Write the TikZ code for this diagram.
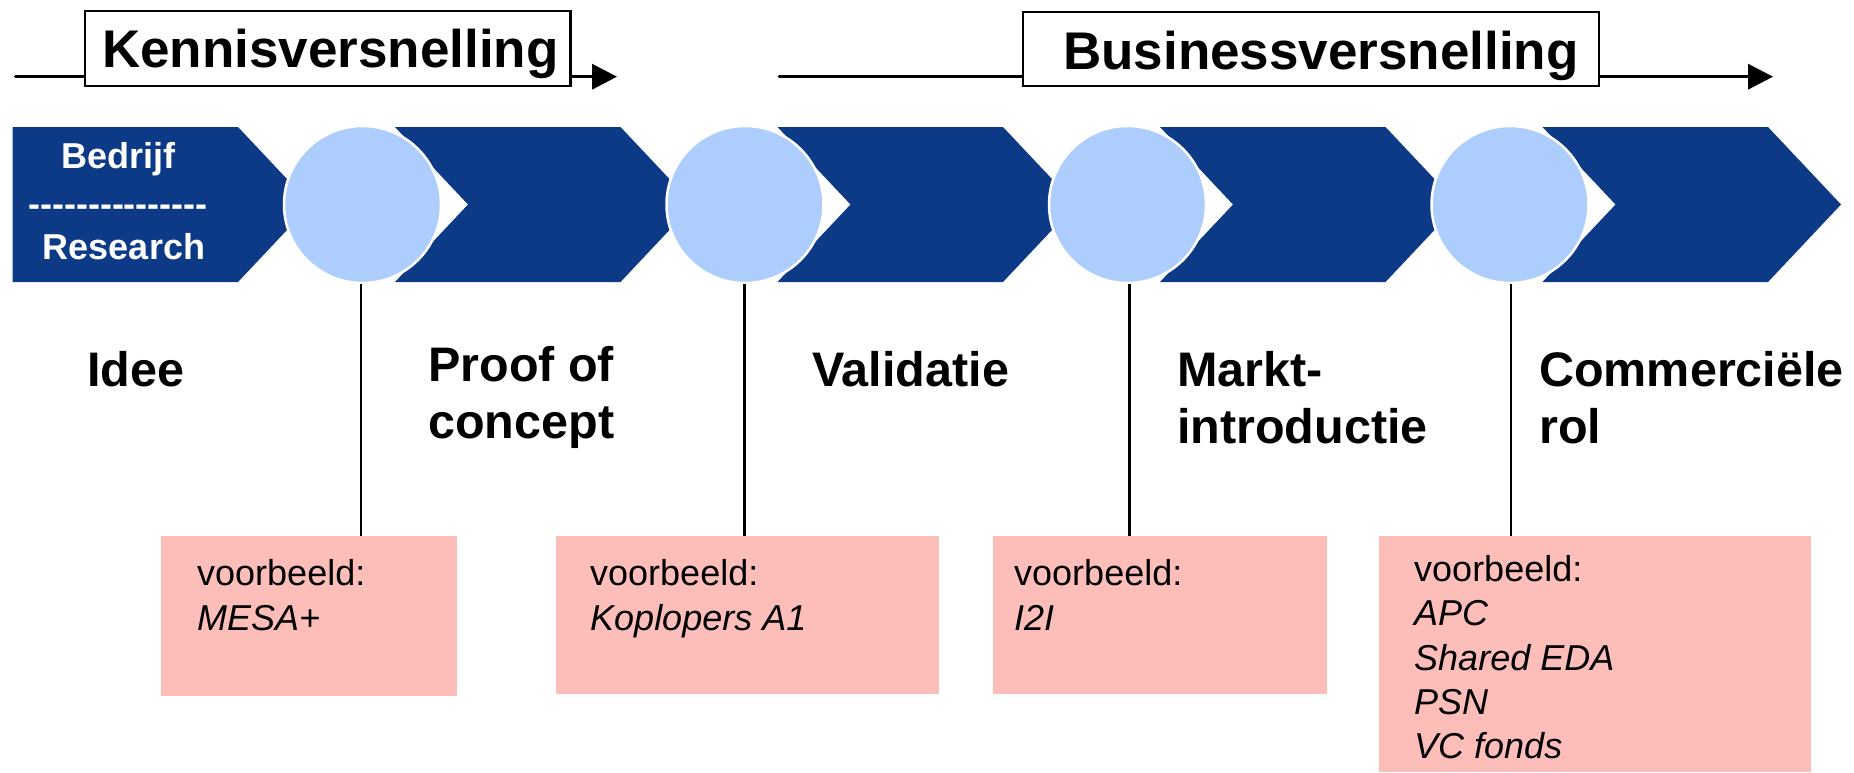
\documentclass[tikz,border=0pt]{standalone}
\usepackage{fontspec}
\setmainfont{Liberation Sans}
\usetikzlibrary{arrows.meta}
\definecolor{chevblue}{RGB}{12,58,135}
\definecolor{dotblue}{RGB}{173,205,252}
\definecolor{boxpink}{RGB}{253,190,186}
\newcommand{\hyph}{\mbox{-}}
\begin{document}
\begin{tikzpicture}[x=1pt,y=-1pt,
  chev/.style={fill=chevblue},
  dot/.style={circle,fill=dotblue,draw=white,line width=2.5pt,minimum size=157pt,inner sep=0pt},
  phasebox/.style={draw=black,fill=white,line width=2.5pt,inner sep=0pt},
  headtxt/.style={anchor=base west,inner sep=0pt,font=\fontsize{53}{60}\selectfont\bfseries},
  stagetxt/.style={anchor=base west,inner sep=0pt,font=\fontsize{48.5}{56}\selectfont\bfseries},
  chevtxt/.style={anchor=base,inner sep=0pt,text=white,font=\fontsize{36}{42}\selectfont\bfseries},
  pinkbox/.style={fill=boxpink,inner sep=0pt},
  extxt/.style={anchor=base west,inner sep=0pt,font=\fontsize{36}{44}\selectfont},
  exit/.style={anchor=base west,inner sep=0pt,font=\fontsize{36}{44}\selectfont\itshape},
  phasearrow/.style={line width=3.5pt,line cap=round,-{Triangle[length=25pt,width=25pt]}},
  stem/.style={line width=2.5pt}]
\useasboundingbox (0,0) rectangle (1854,772);

% phase arrows and boxes
\coordinate (ka) at (15.6,76.7);
\coordinate (kb) at (617,76.7);
\draw[phasearrow] (ka) -- (kb);
\coordinate (ba) at (779.3,76.7);
\coordinate (bb) at (1773,76.7);
\draw[phasearrow] (ba) -- (bb);
\path[phasebox] (85,11) rectangle (570.5,86);
\node[headtxt] (kt) at (102,67) {Kennisversnelling};
\path[phasebox] (1023,12) rectangle (1599,86);
\node[headtxt] (bt) at (1063,69) {Businessversnelling};

% chevrons
\fill[chev] (12.5,127) -- (238,127) -- (311,204.5) -- (238,282) -- (12.5,282) -- cycle;
\foreach \i in {1,2,3,4}{
  \fill[chev] ({12.5+382.5*\i},127) -- ({238+382.5*\i},127) -- ({311+382.5*\i},204.5)
     -- ({238+382.5*\i},282) -- ({12.5+382.5*\i},282) -- ({85.5+382.5*\i},204.5) -- cycle;
}
\node[chevtxt] (bed) at (118.5,168) {Bedrijf};
\node[chevtxt] (dash) at (118,216) {\hyph\hyph\hyph\hyph\hyph\hyph\hyph\hyph\hyph\hyph\hyph\hyph\hyph\hyph\hyph};
\node[chevtxt] (res) at (124,259) {Research};

% circles
\node[dot] (c1) at (362.5,204.5) {};
\node[dot] (c2) at (745,204.5) {};
\node[dot] (c3) at (1127.5,204.5) {};
\node[dot] (c4) at (1510,204.5) {};

% example boxes
\path[pinkbox] (160.7,536) rectangle (456.6,695.7);
\path[pinkbox] (555.6,536) rectangle (938.8,693.7);
\path[pinkbox] (992.8,536) rectangle (1326.6,693.7);
\path[pinkbox] (1378.8,536) rectangle (1811,772);
\coordinate (b1) at (361,536);
\coordinate (b2) at (744.5,536);
\coordinate (b3) at (1129.5,536);
\coordinate (b4) at (1511,536);

% stems
\draw[stem] (c1.south -| b1) -- (b1);
\draw[stem] (c2.south -| b2) -- (b2);
\draw[stem] (c3.south -| b3) -- (b3);
\draw[stem] (c4.south -| b4) -- (b4);

% stage labels
\node[stagetxt] (s1) at (87,386.7) {Idee};
\node[stagetxt] (s2a) at (428,381.7) {Proof of};
\node[stagetxt] (s2b) at (428,438) {concept};
\node[stagetxt] (s3) at (812,386.7) {Validatie};
\node[stagetxt] (s4a) at (1177,386.7) {Markt-};
\node[stagetxt] (s4b) at (1177,443) {introductie};
\node[stagetxt] (s5a) at (1539,386.7) {Commerciële};
\node[stagetxt] (s5b) at (1539,443) {rol};

% example texts
\node[extxt] (e1a) at (197,585) {voorbeeld:};
\node[exit] (e1b) at (197,630) {MESA+};
\node[extxt] (e2a) at (590,585) {voorbeeld:};
\node[exit] (e2b) at (590,630) {Koplopers A1};
\node[extxt] (e3a) at (1014,585) {voorbeeld:};
\node[exit] (e3b) at (1014,630) {I2I};
\node[extxt] (e4a) at (1414,581) {voorbeeld:};
\node[exit] (e4b) at (1414,625) {APC};
\node[exit] (e4c) at (1414,670) {Shared EDA};
\node[exit] (e4d) at (1414,714) {PSN};
\node[exit] (e4e) at (1414,758) {VC fonds};
\end{tikzpicture}
\end{document}
